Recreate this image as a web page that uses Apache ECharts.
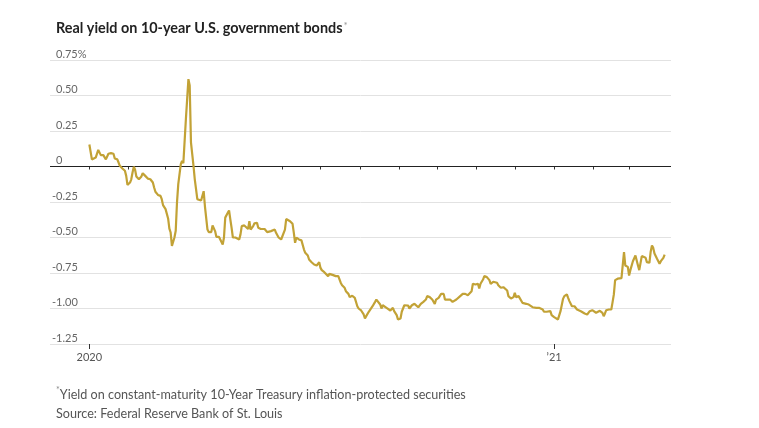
<!DOCTYPE html>
<html>
<head>
<meta charset="utf-8">
<script src="https://cdn.jsdelivr.net/npm/echarts@6/dist/echarts.min.js"></script>
<style>
html,body{margin:0;padding:0;background:#fff;}
#chart{width:759px;height:428px;}
</style>
</head>
<body>
<div id="chart"></div>
<script>
// Days after 2020-01-01 for each observation
const dayOffsets = [
  0,2,3,5,7,8,9,11,12,13, 14,15,17,19,20,22,23,24,26,27,
  28,29,30,32,33,34,35,36,37,39, 40,41,42,44,45,46,48,49,50,51,
  52,54,56,57,58,59,60,62,63,64, 65,67,68,69,70,72,73,74,75,76,
  77,78,79,80,81,82,83,84,85,86,
  88,90,91,93,94,96,97,99,100,102, 103,105,106,107,109,110,111,112,113,115,
  116,118,119,120,122,123,125,126,127,129, 130,132,133,135,136,138,140,141,143,144,
  146,147,149,151,152,154,155,156,158,160, 161,162,163,165,167,169,170,172,173,174,
  175,177,179,181,182,183,185,
  186,188,189,190,192,194,195,196,198,199, 201,202,204,205,207,208,209,211,212,214,
  216,217,218,220,221,223,225,226,227,229, 230,231,232,234,235,237,238,239,240,242,
  243,245,246,248,249,251,252,254,256,257, 259,260,261,263,265,266,268,269,270,272,
  273,275,276,
  277,279,280,282,284,286,287,289,290,292, 294,295,296,298,299,301,302,304,305,306,
  307,308,310,311,313,315,316,318,319,321, 322,324,326,327,329,330,332,334,335,336,
  338,339,341,342,344,346,347,349,350,352, 354,355,357,358,360,361,363,364,366,367,
  369,370,371,372,373,374,376,377,378,379, 380,382,383,384,385,387,388,390,392,393,
  394,396,397,399,400,402,403,404,405,406, 407,409,411,412,413,414,416,417,419,420,
  421,422,423,424,425,426,428,429,430,431, 432,433,434,435,436,438,439,441,442,443,
  444,445,447,449,450,452,453
];
// Real yield, percent
const yields = [
  0.155,0.05,0.04,0.063,0.117,0.11,0.08,0.08,0.075,0.05, 0.063,0.09,0.094,0.09,0.056,0.05,0.028,0.005,-0.014,-0.005,
  -0.03,-0.066,-0.13,-0.113,-0.09,-0.042,-0.002,-0.023,-0.07,-0.09, -0.094,-0.07,-0.047,-0.066,-0.066,-0.085,-0.09,-0.085,-0.113,-0.148,
  -0.178,-0.2,-0.207,-0.23,-0.272,-0.28,-0.3,-0.366,-0.437,-0.465, -0.56,-0.5,-0.453,-0.254,-0.124,0.016,0.04,0.023,0.016,0.333,
  0.474,0.615,0.57,0.17,0.087,0.005,-0.09,-0.16,-0.23,-0.218,
  -0.24,-0.174,-0.28,-0.444,-0.462,-0.462,-0.415,-0.455,-0.495,-0.495, -0.5,-0.55,-0.5,-0.36,-0.326,-0.31,-0.373,-0.432,-0.5,-0.5,
  -0.5,-0.514,-0.478,-0.42,-0.415,-0.42,-0.44,-0.385,-0.444,-0.42, -0.4,-0.397,-0.432,-0.44,-0.444,-0.44,-0.462,-0.455,-0.455,-0.455,
  -0.444,-0.467,-0.5,-0.514,-0.514,-0.444,-0.37,-0.36,-0.385,-0.404, -0.467,-0.537,-0.5,-0.514,-0.52,-0.585,-0.608,-0.627,-0.655,-0.643,
  -0.674,-0.69,-0.697,-0.674,-0.714,-0.73,-0.744,
  -0.749,-0.772,-0.756,-0.76,-0.765,-0.772,-0.779,-0.772,-0.82,-0.836, -0.854,-0.878,-0.897,-0.92,-0.91,-0.897,-0.925,-0.984,-1.0,-1.014,
  -1.042,-1.07,-1.054,-1.023,-1.014,-0.984,-0.953,-0.937,-0.948,-0.972, -1.0,-0.977,-0.972,-0.995,-1.007,-1.014,-1.014,-0.995,-1.019,-1.047,
  -1.077,-1.07,-1.023,-0.977,-0.972,-0.979,-1.0,-0.977,-0.967,-0.967, -0.991,-0.977,-0.967,-0.953,-0.937,-0.913,-0.92,-0.93,-0.937,-0.967,
  -0.937,-0.925,-0.913,
  -0.897,-0.897,-0.937,-0.937,-0.937,-0.953,-0.944,-0.937,-0.925,-0.913, -0.897,-0.885,-0.897,-0.906,-0.913,-0.878,-0.826,-0.831,-0.836,-0.826,
  -0.859,-0.826,-0.796,-0.772,-0.779,-0.8,-0.826,-0.812,-0.819,-0.819, -0.836,-0.854,-0.85,-0.854,-0.873,-0.913,-0.93,-0.92,-0.89,-0.92,
  -0.913,-0.925,-0.96,-0.953,-0.967,-0.972,-0.984,-0.991,-0.995,-0.995, -0.995,-1.0,-1.007,-1.023,-1.023,-1.023,-1.019,-1.047,-1.061,-1.066,
  -1.077,-1.073,-1.019,-1.007,-0.932,-0.913,-0.901,-0.925,-0.948,-0.937, -0.984,-0.984,-0.988,-1.007,-0.995,-1.019,-1.026,-1.035,-1.042,-1.054,
  -1.019,-1.012,-1.016,-1.03,-1.016,-1.016,-1.021,-1.03,-1.054,-1.035, -1.012,-1.007,-1.007,-0.955,-0.901,-0.8,-0.79,-0.79,-0.786,-0.772,
  -0.603,-0.697,-0.702,-0.707,-0.768,-0.73,-0.667,-0.655,-0.627,-0.627, -0.697,-0.73,-0.737,-0.631,-0.617,-0.643,-0.673,-0.678,-0.6,-0.556,
  -0.573,-0.613,-0.65,-0.685,-0.667,-0.643,-0.62
];
const seriesStart = '2020-01-01';
const axisStart = '2019-12-01';
const axisEnd = '2021-04-03';
const monthTicks = ['2020-01-01','2020-02-01','2020-03-01','2020-04-01','2020-05-01','2020-06-01','2020-07-01',
  '2020-08-01','2020-09-01','2020-10-01','2020-11-01','2020-12-01','2021-01-01','2021-02-01','2021-03-01'];
const yearTicks = ['2020-01-01','2021-01-01'];
const yearLabels = ['2020', '\u201921'];
const yMin = -1.25, yMax = 0.75, yStep = 0.25;
const titleText = 'Real yield on 10-year U.S. government bonds';
const noteText = 'Yield on constant-maturity 10-Year Treasury inflation-protected securities';
const sourceText = 'Source: Federal Reserve Bank of St. Louis';

function ts(s) { const p = s.split('-').map(Number); return Date.UTC(p[0], p[1] - 1, p[2]); }
const DAY = 86400000;
const base = ts(seriesStart);
function dayOf(s) { return Math.round((ts(s) - base) / DAY); }
const lineData = dayOffsets.map((d, i) => [d, yields[i]]);
const monthDays = monthTicks.map(dayOf);
const yearDays = yearTicks.map(dayOf);

const FONT = 'Lato, "Open Sans", sans-serif';
const chart = echarts.init(document.getElementById('chart'), null, {renderer: 'canvas'});
chart.setOption({
  animation: false,
  backgroundColor: '#fff',
  title: [{
    left: 51, top: 14,
    text: '{t|' + titleText + '}{a|*}',
    textStyle: {
      rich: {
        t: {fontFamily: FONT, fontSize: 14.4, fontWeight: 'bold', color: '#222', lineHeight: 18},
        a: {fontFamily: FONT, fontSize: 10, fontWeight: 'normal', color: '#999', verticalAlign: 'top', lineHeight: 18, padding: [2,0,0,1]}
      }
    }
  }, {
    left: 51, top: 380,
    text: '{a|*}{n|' + noteText + '}\n{n|' + sourceText + '}',
    textStyle: {
      fontWeight: 'normal',
      rich: {
        n: {fontFamily: FONT, fontSize: 12.6, fontWeight: 'normal', color: '#555', lineHeight: 19},
        a: {fontFamily: FONT, fontSize: 9, fontWeight: 'normal', color: '#888', verticalAlign: 'top', lineHeight: 19, padding: [1,0,0,0]}
      }
    }
  }],
  grid: {left: 50, right: 88, top: 60, bottom: 84, containLabel: false},
  xAxis: [{
    type: 'value', min: dayOf(axisStart), max: dayOf(axisEnd),
    axisLine: {show: false},
    splitLine: {show: false},
    axisTick: {show: true, customValues: monthDays, length: 3, lineStyle: {color: '#333', width: 1}},
    axisLabel: {show: false}
  }, {
    type: 'value', min: dayOf(axisStart), max: dayOf(axisEnd), position: 'bottom',
    axisLine: {show: false},
    splitLine: {show: false},
    axisTick: {show: true, customValues: yearDays, length: 5, lineStyle: {color: '#333', width: 1}},
    axisLabel: {
      show: true, customValues: yearDays, margin: 8,
      fontFamily: FONT, fontSize: 11, color: '#555',
      formatter: function (v) { const i = yearDays.indexOf(v); return i >= 0 ? yearLabels[i] : ''; }
    }
  }],
  yAxis: {
    type: 'value', min: yMin, max: yMax, interval: yStep,
    axisLine: {show: false}, axisTick: {show: false},
    splitLine: {show: true, lineStyle: {color: '#e2e2e2', width: 1}},
    axisLabel: {
      inside: true, margin: 2, verticalAlign: 'bottom',
      fontFamily: FONT, fontSize: 11, color: '#666', lineHeight: 12,
      formatter: function (v) {
        const r = Math.round(v * 100) / 100;
        let s = r === 0 ? '0' : r.toFixed(2);
        if (r === yMax) s += '%';
        return r >= 0 ? '{p|' + s + '}' : s;
      },
      rich: {p: {fontFamily: FONT, fontSize: 11, color: '#666', lineHeight: 12, padding: [0,0,0,4]}}
    }
  },
  series: [{
    type: 'line', xAxisIndex: 0, yAxisIndex: 0,
    data: lineData, showSymbol: false, symbol: 'none',
    lineStyle: {color: '#c2a236', width: 2.2}, z: 3,
    markLine: {
      silent: true, symbol: ['none', 'none'], label: {show: false},
      lineStyle: {color: '#222', width: 1, type: 'solid'},
      data: [{yAxis: 0}], z: 2
    }
  }]
});
</script>
</body>
</html>
